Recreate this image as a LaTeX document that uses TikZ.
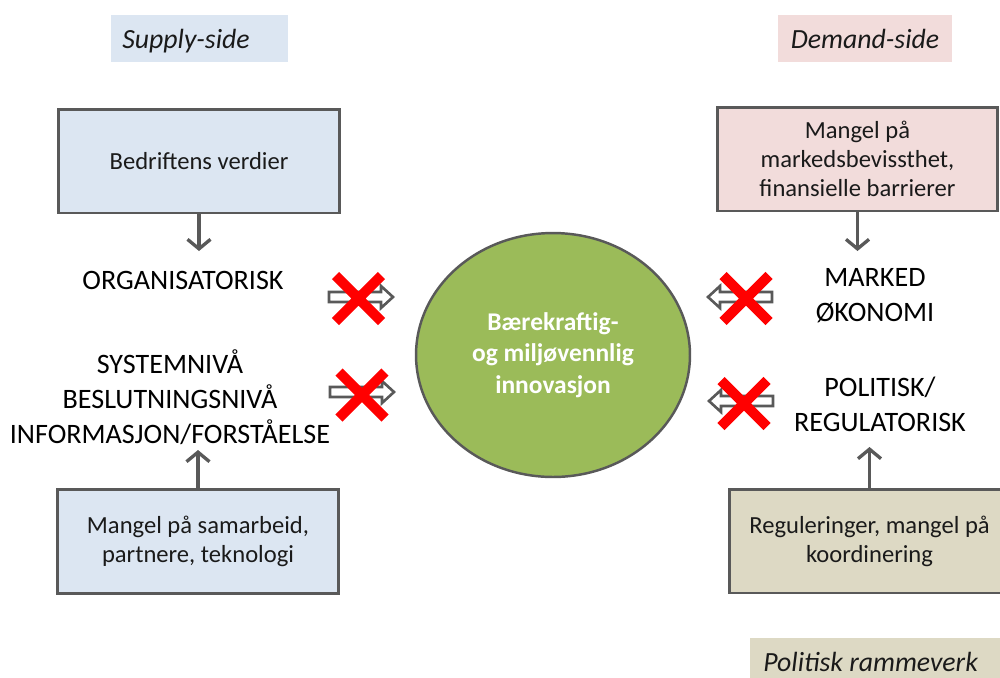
\documentclass[tikz,border=0pt]{standalone}
\usepackage{fontspec}
\setmainfont{Carlito}
\usetikzlibrary{arrows.meta,calc,shapes.geometric}

\definecolor{boxblue}{HTML}{DCE6F2}
\definecolor{boxpink}{HTML}{F2DCDB}
\definecolor{boxtan}{HTML}{DDD9C4}
\definecolor{leaf}{HTML}{9BBB59}
\definecolor{edge}{HTML}{595959}
\definecolor{ink}{HTML}{1A1A1A}

\tikzset{
  box/.style={draw=edge, line width=1.7pt, align=center, inner sep=0pt,
    minimum width=5.62cm, minimum height=2.08cm, text=ink,
    font=\fontsize{14}{16.5}\selectfont},
  tag/.style={inner sep=0pt, text=ink, font=\fontsize{15.8}{18}\selectfont\itshape},
  caps/.style={align=center, inner sep=0pt, text=black, font=\fontsize{16}{20}\selectfont},
  conn/.style={draw=edge, line width=1.9pt, -{Straight Barb[length=1.9mm,width=4.6mm]}},
  blockarrow/.pic={
    \draw[edge, line width=1.5pt, fill=white, line join=miter]
      (-32,-5) -- (20,-5) -- (20,-11) -- (32,0) -- (20,11) -- (20,5) -- (-32,5) -- cycle;
  },
  redcross/.pic={
    \draw[red, line width=5.8pt, line cap=butt] (-23,-23) -- (23,23) (-23,23) -- (23,-23);
  }
}

\begin{document}
\begin{tikzpicture}[x=0.02cm, y=-0.02cm]
\useasboundingbox (0,0) rectangle (1000,677);
\clip (0,0) rectangle (1000,677);

% side headings
\fill[boxblue] (111,15) rectangle (288,62);
\node[tag, anchor=west] (sup) at (122,41) {Supply-side};
\node[tag, fill=boxpink, minimum width=3.48cm, minimum height=0.94cm] (dem) at (865,38.5) {Demand-side};
\fill[boxtan] (750,638) rectangle (1010,700);
\node[tag, anchor=west] (ramme) at (763,662) {Politisk rammeverk};

% supply side
\node[box, fill=boxblue] (b1) at (199,161) {Bedriftens verdier};
\node[caps] (org) at (183,280) {ORGANISATORISK};
\coordinate (t1) at (199,251);
\draw[conn] (b1) -- (t1);

\node[caps] (sys) at (170,397) {SYSTEMNIVÅ\\BESLUTNINGSNIVÅ\\INFORMASJON/FORSTÅELSE};
\node[box, fill=boxblue] (b2) at (198,541.5) {Mangel på samarbeid,\\partnere, teknologi};
\coordinate (t2) at (198,450);
\draw[conn] (b2) -- (t2);

% demand side
\node[box, fill=boxpink] (b3) at (857.5,159) {Mangel på\\markedsbevissthet,\\finansielle barrierer};
\coordinate (t3) at (857.5,251);
\draw[conn] (b3) -- (t3);
\node[caps] (mkt) at (875,296) {MARKED\\ØKONOMI};

\node[caps] (pol) at (880,404) {POLITISK/\\REGULATORISK};
\node[box, fill=boxtan] (b4) at (869.5,541) {Reguleringer, mangel på\\koordinering};
\coordinate (t4) at (869.5,447);
\draw[conn] (b4) -- (t4);

% centre
\node[ellipse, draw=edge, line width=1.4pt, fill=leaf, minimum width=5.48cm, minimum height=4.88cm,
  align=center, text=white, font=\fontsize{14.5}{17.8}\selectfont\bfseries] (core) at (553,355)
  {Bærekraftig-\\og miljøvennlig\\innovasjon};

% blocked influences
\pic (ba1) at (361,297) {blockarrow};
\pic (rx1) at (358.5,298.5) {redcross};
\pic (ba2) at (362,392) {blockarrow};
\pic (rx2) at (362,395) {redcross};
\pic[rotate=180] (ba3) at (740,297) {blockarrow};
\pic (rx3) at (746,298.5) {redcross};
\pic[rotate=180] (ba4) at (741,401) {blockarrow};
\pic (rx4) at (744,403.5) {redcross};
\end{tikzpicture}
\end{document}
